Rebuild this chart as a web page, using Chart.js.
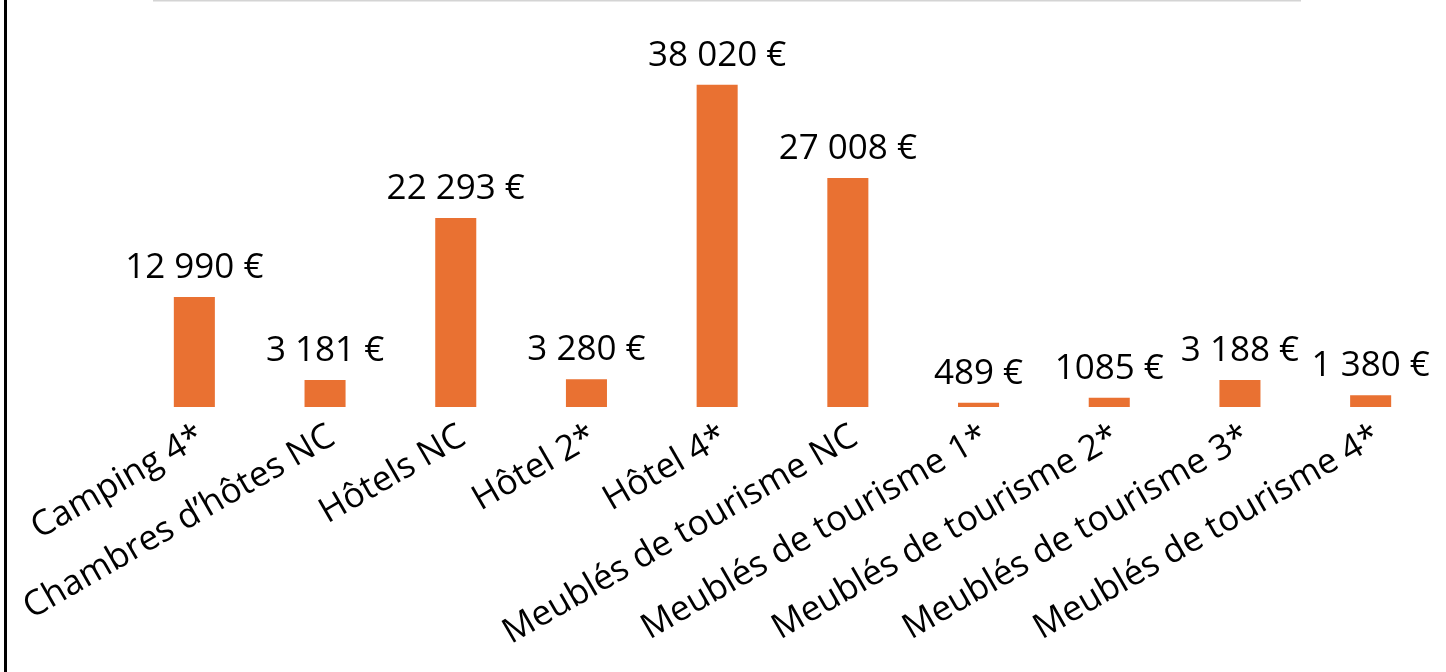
<!DOCTYPE html>
<html>
<head>
<meta charset="utf-8">
<script src="https://cdn.jsdelivr.net/npm/chart.js@4.4.1/dist/chart.umd.min.js"></script>
<style>
  html, body { margin: 0; padding: 0; background: #fff; }
  #wrap { position: relative; width: 1446px; height: 672px; }
</style>
</head>
<body>
<div id="wrap"><canvas id="c" width="1446" height="672"></canvas></div>
<script>
const categories = [
  "Camping 4*",
  "Chambres d’hôtes NC",
  "Hôtels NC",
  "Hôtel 2*",
  "Hôtel 4*",
  "Meublés de tourisme NC",
  "Meublés de tourisme 1*",
  "Meublés de tourisme 2*",
  "Meublés de tourisme 3*",
  "Meublés de tourisme 4*"
];
const values = [12990, 3181, 22293, 3280, 38020, 27008, 489, 1085, 3188, 1380];
const valueLabels = ["12 990 €", "3 181 €", "22 293 €", "3 280 €", "38 020 €", "27 008 €", "489 €", "1085 €", "3 188 €", "1 380 €"];

const FONT = "'Open Sans', 'DejaVu Sans', sans-serif";
const BAR_COLOR = "#E97132";

const valueLabelPlugin = {
  id: "valueLabels",
  afterDatasetsDraw(chart) {
    const ctx = chart.ctx;
    const meta = chart.getDatasetMeta(0);
    ctx.save();
    ctx.font = "35px " + FONT;
    ctx.fillStyle = "#000";
    ctx.textAlign = "center";
    ctx.textBaseline = "alphabetic";
    meta.data.forEach((bar, i) => {
      ctx.fillText(valueLabels[i], bar.x, bar.y - 19);
    });
    ctx.restore();
  }
};

const framePlugin = {
  id: "frame",
  afterDraw(chart) {
    const ctx = chart.ctx;
    ctx.save();
    ctx.fillStyle = "#000";
    ctx.fillRect(4, 0, 3, chart.height);
    ctx.fillStyle = "#d4d4d4";
    ctx.fillRect(153, 0, 1148, 1.5);
    ctx.restore();
  }
};

new Chart(document.getElementById("c"), {
  type: "bar",
  data: {
    labels: categories,
    datasets: [{
      data: values,
      backgroundColor: BAR_COLOR,
      borderWidth: 0,
      categoryPercentage: 1,
      barPercentage: 0.314
    }]
  },
  options: {
    responsive: false,
    animation: false,
    devicePixelRatio: 1,
    layout: { padding: { left: 129, right: 10, top: 68, bottom: 0 } },
    plugins: { legend: { display: false }, tooltip: { enabled: false }, title: { display: false } },
    scales: {
      x: {
        grid: { display: false, drawTicks: false },
        border: { display: false },
        ticks: {
          autoSkip: false,
          minRotation: 30,
          maxRotation: 30,
          padding: 9,
          labelOffset: 7,
          color: "#000",
          font: { family: FONT, size: 35 }
        },
        afterFit(scale) {
          scale.height = 265;
          scale.paddingLeft = 0;
          scale.paddingRight = 0;
        }
      },
      y: {
        display: false,
        min: 0,
        max: 40000
      }
    }
  },
  plugins: [valueLabelPlugin, framePlugin]
});
</script>
</body>
</html>
